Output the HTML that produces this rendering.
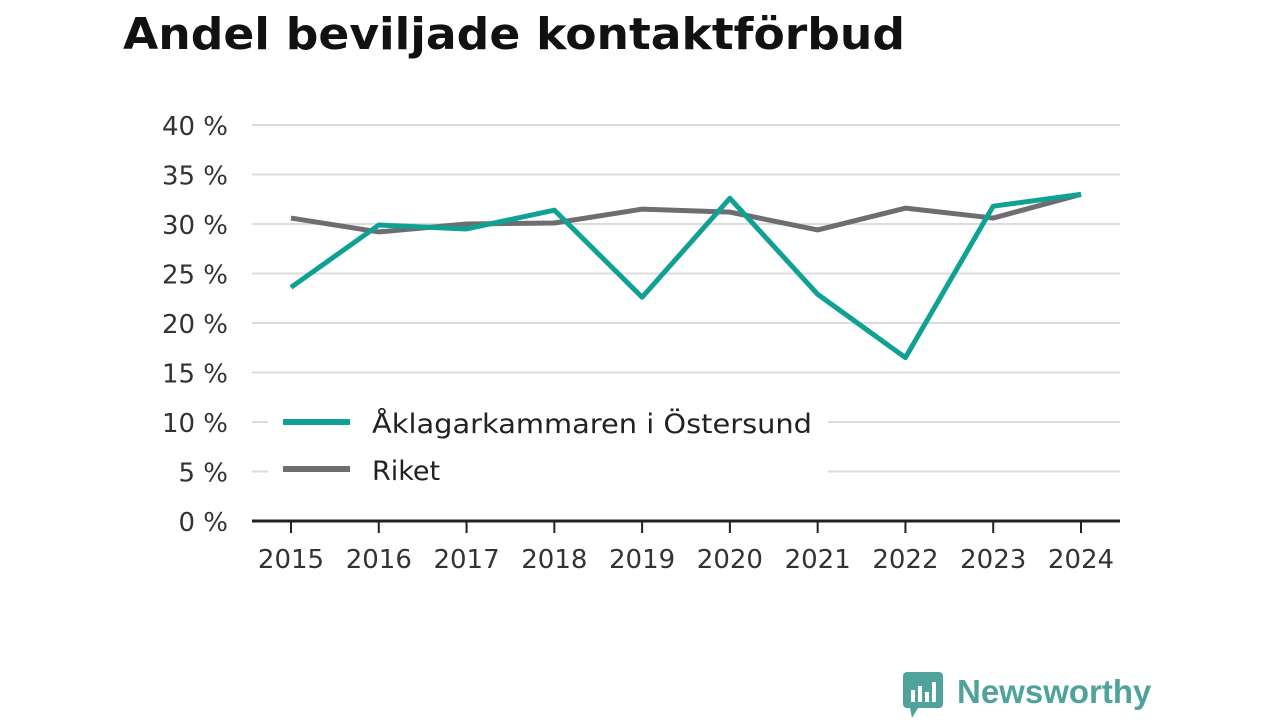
<!DOCTYPE html>
<html><head><meta charset="utf-8"><style>
body{margin:0;width:1280px;height:720px;background:#fff;overflow:hidden;font-family:"DejaVu Sans",sans-serif}
</style></head><body>
<svg width="1280" height="720">
<text x="123" y="49" font-size="44" font-weight="bold" fill="#111" textLength="782" lengthAdjust="spacingAndGlyphs">Andel beviljade kontaktförbud</text>
<g id="grid"></g><g id="series"></g>
<g>
<rect x="268" y="398" width="560" height="94" fill="#fff"/>
<line x1="283" y1="422" x2="350" y2="422" stroke="#10a195" stroke-width="6"/>
<text x="372" y="433" font-size="27" fill="#222" textLength="440" lengthAdjust="spacingAndGlyphs">Åklagarkammaren i Östersund</text>
<line x1="283" y1="469" x2="350" y2="469" stroke="#6e6e72" stroke-width="6"/>
<text x="372" y="480" font-size="27" fill="#222">Riket</text>
</g>
<g>
<rect x="903" y="672" width="40" height="36" rx="4" fill="#4fa39b"/>
<polygon points="910,708 918,708 912,718" fill="#4fa39b"/>
<rect x="911" y="690" width="4" height="12" fill="#fff"/><rect x="918" y="686" width="4" height="16" fill="#fff"/><rect x="925" y="692" width="4" height="10" fill="#fff"/><rect x="932" y="682" width="4" height="20" fill="#fff"/>
<text x="957" y="703" font-size="33" font-weight="bold" fill="#4fa39b" font-family="Liberation Sans, sans-serif">Newsworthy</text>
</g>
</svg>
<script>
const years=[2015,2016,2017,2018,2019,2020,2021,2022,2023,2024];
const ostersund=[23.6,29.9,29.5,31.4,22.6,32.6,22.9,16.5,31.8,33.0];
const riket=[30.6,29.2,30.0,30.1,31.5,31.2,29.4,31.6,30.6,33.0];
const yTicks=[0,5,10,15,20,25,30,35,40];
const NS='http://www.w3.org/2000/svg';
const x=i=>291+i*(1081-291)/(years.length-1);
const y=v=>521-v*(521-125)/40;
function mk(t,a,p){const e=document.createElementNS(NS,t);for(const k in a)e.setAttribute(k,a[k]);p.appendChild(e);return e;}
const g=document.getElementById('grid');
yTicks.forEach(v=>{
 const l=mk('line',{x1:252,x2:1120,y1:y(v),y2:y(v),stroke:v===0?'#222':'#dcdcdc','stroke-width':v===0?3:2},g);
 
 
 const t=mk('text',{x:228,y:y(v)+10,'font-size':26,fill:'#333','text-anchor':'end'},g);
 t.textContent=v+' %';
 
 
});
years.forEach((yr,i)=>{
 const tk=mk('line',{x1:x(i),x2:x(i),y1:521,y2:533,stroke:'#222','stroke-width':2},g);
 
 
 const t=mk('text',{x:x(i),y:568,'font-size':26,fill:'#333','text-anchor':'middle'},g);
 t.textContent=yr;
 
 
});
const s=document.getElementById('series');
function line(d,c,n){
 const p=mk('polyline',{points:d.map((v,i)=>x(i)+','+y(v)).join(' '),fill:'none',stroke:c,'stroke-width':5,'stroke-linejoin':'round'},s);
 
 
}
line(riket,'#6e6e72','line-riket');
line(ostersund,'#10a195','line-ostersund');
</script>
</body></html>
